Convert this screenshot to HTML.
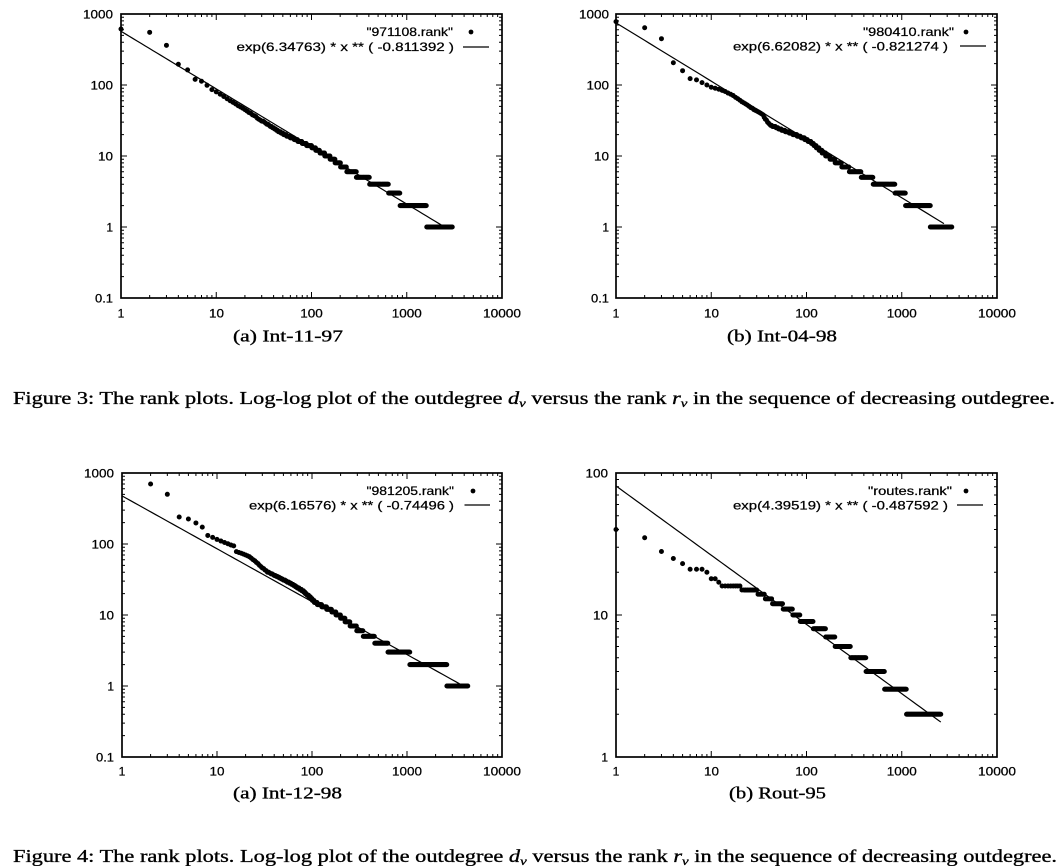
<!DOCTYPE html>
<html><head><meta charset="utf-8">
<style>
html,body{margin:0;padding:0;background:#fff;overflow:hidden;}
svg{display:block;}
.t{font-family:"Liberation Sans",sans-serif;font-size:12px;fill:#000;stroke:#000;stroke-width:0.25px;}
.s{font-family:"Liberation Serif",serif;fill:#000;stroke:#000;stroke-width:0.35px;}
</style></head><body>
<svg id="s" width="1061" height="866" viewBox="0 0 1061 866" xmlns="http://www.w3.org/2000/svg">
<rect x="0" y="0" width="1061" height="866" fill="#fff"/>
<g class="t" text-anchor="end">
<text x="113" y="18.5" textLength="30" lengthAdjust="spacingAndGlyphs">1000</text>
<text x="113" y="89.5" textLength="22.5" lengthAdjust="spacingAndGlyphs">100</text>
<text x="113" y="160.5" textLength="15" lengthAdjust="spacingAndGlyphs">10</text>
<text x="113" y="231.5">1</text>
<text x="113" y="302.5" textLength="18" lengthAdjust="spacingAndGlyphs">0.1</text>
<text x="609" y="18.5" textLength="30" lengthAdjust="spacingAndGlyphs">1000</text>
<text x="609" y="89.5" textLength="22.5" lengthAdjust="spacingAndGlyphs">100</text>
<text x="609" y="160.5" textLength="15" lengthAdjust="spacingAndGlyphs">10</text>
<text x="609" y="231.5">1</text>
<text x="609" y="302.5" textLength="18" lengthAdjust="spacingAndGlyphs">0.1</text>
<text x="114" y="477.5" textLength="30" lengthAdjust="spacingAndGlyphs">1000</text>
<text x="114" y="548.5" textLength="22.5" lengthAdjust="spacingAndGlyphs">100</text>
<text x="114" y="619.5" textLength="15" lengthAdjust="spacingAndGlyphs">10</text>
<text x="114" y="690.5">1</text>
<text x="114" y="761.5" textLength="18" lengthAdjust="spacingAndGlyphs">0.1</text>
<text x="608" y="477.5" textLength="22.5" lengthAdjust="spacingAndGlyphs">100</text>
<text x="608" y="619.5" textLength="15" lengthAdjust="spacingAndGlyphs">10</text>
<text x="608" y="761.5">1</text>
</g>
<g class="t" text-anchor="middle">
<text x="121" y="317.5">1</text>
<text x="216.5" y="317.5" textLength="15" lengthAdjust="spacingAndGlyphs">10</text>
<text x="311.5" y="317.5" textLength="22.5" lengthAdjust="spacingAndGlyphs">100</text>
<text x="406.75" y="317.5" textLength="30" lengthAdjust="spacingAndGlyphs">1000</text>
<text x="502" y="317.5" textLength="38" lengthAdjust="spacingAndGlyphs">10000</text>
<text x="616" y="317.5">1</text>
<text x="711.5" y="317.5" textLength="15" lengthAdjust="spacingAndGlyphs">10</text>
<text x="806.5" y="317.5" textLength="22.5" lengthAdjust="spacingAndGlyphs">100</text>
<text x="901.75" y="317.5" textLength="30" lengthAdjust="spacingAndGlyphs">1000</text>
<text x="997" y="317.5" textLength="38" lengthAdjust="spacingAndGlyphs">10000</text>
<text x="122" y="775.5">1</text>
<text x="217" y="775.5" textLength="15" lengthAdjust="spacingAndGlyphs">10</text>
<text x="312" y="775.5" textLength="22.5" lengthAdjust="spacingAndGlyphs">100</text>
<text x="407" y="775.5" textLength="30" lengthAdjust="spacingAndGlyphs">1000</text>
<text x="502" y="775.5" textLength="38" lengthAdjust="spacingAndGlyphs">10000</text>
<text x="616" y="775.5">1</text>
<text x="711.5" y="775.5" textLength="15" lengthAdjust="spacingAndGlyphs">10</text>
<text x="806.5" y="775.5" textLength="22.5" lengthAdjust="spacingAndGlyphs">100</text>
<text x="901.75" y="775.5" textLength="30" lengthAdjust="spacingAndGlyphs">1000</text>
<text x="997" y="775.5" textLength="38" lengthAdjust="spacingAndGlyphs">10000</text>
</g>
<g class="t" style="white-space:pre">
<text x="366.5" y="36" textLength="86.5" lengthAdjust="spacingAndGlyphs">"971108.rank"</text>
<text x="236.5" y="51" textLength="217.5" lengthAdjust="spacingAndGlyphs">exp(6.34763)  * x ** (  -0.811392 )</text>
<text x="863" y="36" textLength="91" lengthAdjust="spacingAndGlyphs">"980410.rank"</text>
<text x="733" y="50.5" textLength="215" lengthAdjust="spacingAndGlyphs">exp(6.62082)  * x ** (  -0.821274 )</text>
<text x="366.5" y="495" textLength="87.5" lengthAdjust="spacingAndGlyphs">"981205.rank"</text>
<text x="249" y="509.3" textLength="205" lengthAdjust="spacingAndGlyphs">exp(6.16576)  * x ** (  -0.74496 )</text>
<text x="868" y="495" textLength="84" lengthAdjust="spacingAndGlyphs">"routes.rank"</text>
<text x="733" y="509.3" textLength="215" lengthAdjust="spacingAndGlyphs">exp(4.39519)  * x ** (  -0.487592 )</text>
</g>
<g fill="#000">
<circle cx="471" cy="32" r="2.4"/>
<circle cx="966" cy="32" r="2.4"/>
<circle cx="473" cy="491" r="2.4"/>
<circle cx="966" cy="491" r="2.4"/>
</g>
<g stroke="#000" stroke-width="1.3">
<line x1="463" y1="47" x2="489" y2="47"/>
<line x1="960" y1="46" x2="986" y2="46"/>
<line x1="464.5" y1="505" x2="490" y2="505"/>
<line x1="957" y1="505" x2="983" y2="505"/>
</g>
<text class="s" x="233" y="341.5" font-size="17" textLength="110" lengthAdjust="spacingAndGlyphs">(a) Int-11-97</text>
<text class="s" x="727" y="341.5" font-size="17" textLength="110" lengthAdjust="spacingAndGlyphs">(b) Int-04-98</text>
<text class="s" x="233" y="798.5" font-size="17" textLength="109" lengthAdjust="spacingAndGlyphs">(a) Int-12-98</text>
<text class="s" x="729" y="798.5" font-size="17" textLength="97" lengthAdjust="spacingAndGlyphs">(b) Rout-95</text>
<text class="s" x="13" y="404" font-size="18" textLength="1042" lengthAdjust="spacingAndGlyphs">Figure 3: The rank plots. Log-log plot of the outdegree <tspan font-style="italic">d</tspan><tspan font-style="italic" font-size="12" dy="3">v</tspan><tspan dy="-3"> versus the rank </tspan><tspan font-style="italic">r</tspan><tspan font-style="italic" font-size="12" dy="3">v</tspan><tspan dy="-3"> in the sequence of decreasing outdegree.</tspan></text>
<text class="s" x="13" y="862" font-size="18" textLength="1044" lengthAdjust="spacingAndGlyphs">Figure 4: The rank plots. Log-log plot of the outdegree <tspan font-style="italic">d</tspan><tspan font-style="italic" font-size="12" dy="3">v</tspan><tspan dy="-3"> versus the rank </tspan><tspan font-style="italic">r</tspan><tspan font-style="italic" font-size="12" dy="3">v</tspan><tspan dy="-3"> in the sequence of decreasing outdegree.</tspan></text>
</svg>
<script>
(function(){
const NS='http://www.w3.org/2000/svg';
const svg=document.getElementById('s');
function el(tag,attrs){const e=document.createElementNS(NS,tag);for(const k in attrs)e.setAttribute(k,attrs[k]);svg.appendChild(e);return e;}
function interp(c,x){
  if(x<=c[0][0]) return Math.log10(c[0][1]);
  for(let i=1;i<c.length;i++){
    if(x<=c[i][0]){
      const a=c[i-1],b=c[i];const t=(x-a[0])/(b[0]-a[0]);
      return Math.log10(a[1])+t*(Math.log10(b[1])-Math.log10(a[1]));
    }
  }
  return Math.log10(c[c.length-1][1]);
}
function plot(P){
  const X=lr=>P.x0+lr*(P.x1-P.x0)/4;
  const Y=ld=>P.y1-(ld-P.lyb)*(P.y1-P.y0)/(P.lyt-P.lyb);
  let d='';
  for(let e=0;e<4;e++){for(let m=1;m<=9;m++){const x=X(e+Math.log10(m));const L=m==1?6:3;d+=`M${x.toFixed(2)},${P.y1}v${-L}M${x.toFixed(2)},${P.y0}v${L}`;}}
  for(let e=P.lyb;e<P.lyt;e++){for(let m=1;m<=9;m++){const y=Y(e+Math.log10(m));const L=m==1?6:3;d+=`M${P.x0},${y.toFixed(2)}h${L}M${P.x1},${y.toFixed(2)}h${-L}`;}}
  el('path',{d:d,stroke:'#000','stroke-width':1,fill:'none'});
  el('rect',{x:P.x0,y:P.y0,width:P.x1-P.x0,height:P.y1-P.y0,fill:'none',stroke:'#000','stroke-width':1.7});
  let p='';const N=80;
  for(let i=0;i<=N;i++){const lr=P.fitEnd*i/N;const ld=Math.log10(P.A)+P.B*lr;p+=(i?'L':'M')+X(lr).toFixed(2)+','+Y(ld).toFixed(2);}
  el('path',{d:p,stroke:'#000','stroke-width':1.2,fill:'none'});
  const endL=P.ctrl[P.ctrl.length-1][0];
  const Nn=Math.round(Math.pow(10,endL));
  const R=2.5;let last='';let dots='';
  for(let r=1;r<=Nn;r++){
    let v;
    if(r<=P.first.length) v=P.first[r-1];
    else {v=Math.round(Math.pow(10,interp(P.ctrl,Math.log10(r))));if(v<1)v=1;}
    const x=X(Math.log10(r)),y=Y(Math.log10(v));
    if(y<P.y0-1) continue;
    const key=Math.round(x*2)+','+v;
    if(key===last) continue; last=key;
    dots+=`M${(x-R).toFixed(2)},${y.toFixed(2)}a${R},${R} 0 1,0 ${2*R},0a${R},${R} 0 1,0 ${-2*R},0`;
  }
  el('path',{d:dots,fill:'#000'});
}
plot({x0:121,x1:502,y0:14,y1:298,lyb:-1,lyt:3,A:571.3,B:-0.811392,fitEnd:3.376,
  first:[615,552,362,196,163,120,113,99,86],
  ctrl:[[1.0,80],[1.3,45],[1.5,30],[1.7,20.5],[2.0,13.5],[2.2,9.4],[2.37,6.5],[2.47,5.5],[2.61,4.5],[2.81,3.5],[2.93,2.5],[3.21,1.5],[3.48,1.0]]});
plot({x0:616,x1:997,y0:14,y1:298,lyb:-1,lyt:3,A:750.5,B:-0.821274,fitEnd:3.443,
  first:[780,641,449,206,159,123,118,108,100],
  ctrl:[[1.0,93],[1.1,86],[1.225,72],[1.297,61.5],[1.403,49.4],[1.544,37.8],[1.57,33],[1.616,27.4],[1.793,22],[1.935,18.7],[2.041,15.9],[2.183,10.9],[2.30,8.5],[2.45,6.5],[2.575,5.5],[2.70,4.5],[2.93,3.5],[3.04,2.5],[3.30,1.5],[3.53,1.0]]});
plot({x0:122,x1:502,y0:473,y1:757,lyb:-1,lyt:3,A:476.1,B:-0.74496,fitEnd:3.553,
  first:[1500,700,501,240,225,198,173,132,124,116],
  ctrl:[[1.04,110],[1.176,94],[1.205,78],[1.347,66],[1.526,40.7],[1.774,28],[1.916,21.3],[2.04,14.8],[2.2,11.7],[2.3,9.5],[2.40,7.5],[2.47,6.5],[2.54,5.5],[2.66,4.5],[2.80,3.5],[3.03,2.5],[3.42,1.5],[3.64,1.0]]});
plot({x0:616,x1:997,y0:473,y1:757,lyb:0,lyt:2,A:81.06,B:-0.487592,fitEnd:3.41,
  first:[40,35,28,25,23,21,21,21,20,18,18,17],
  ctrl:[[1.10,16.5],[1.31,15.5],[1.49,14.5],[1.56,13.5],[1.64,12.5],[1.75,11.5],[1.855,10.5],[1.93,9.5],[2.07,8.5],[2.20,7.5],[2.30,6.5],[2.465,5.5],[2.625,4.5],[2.82,3.5],[3.05,2.5],[3.41,1.6]]});
})();
</script>
</body></html>
